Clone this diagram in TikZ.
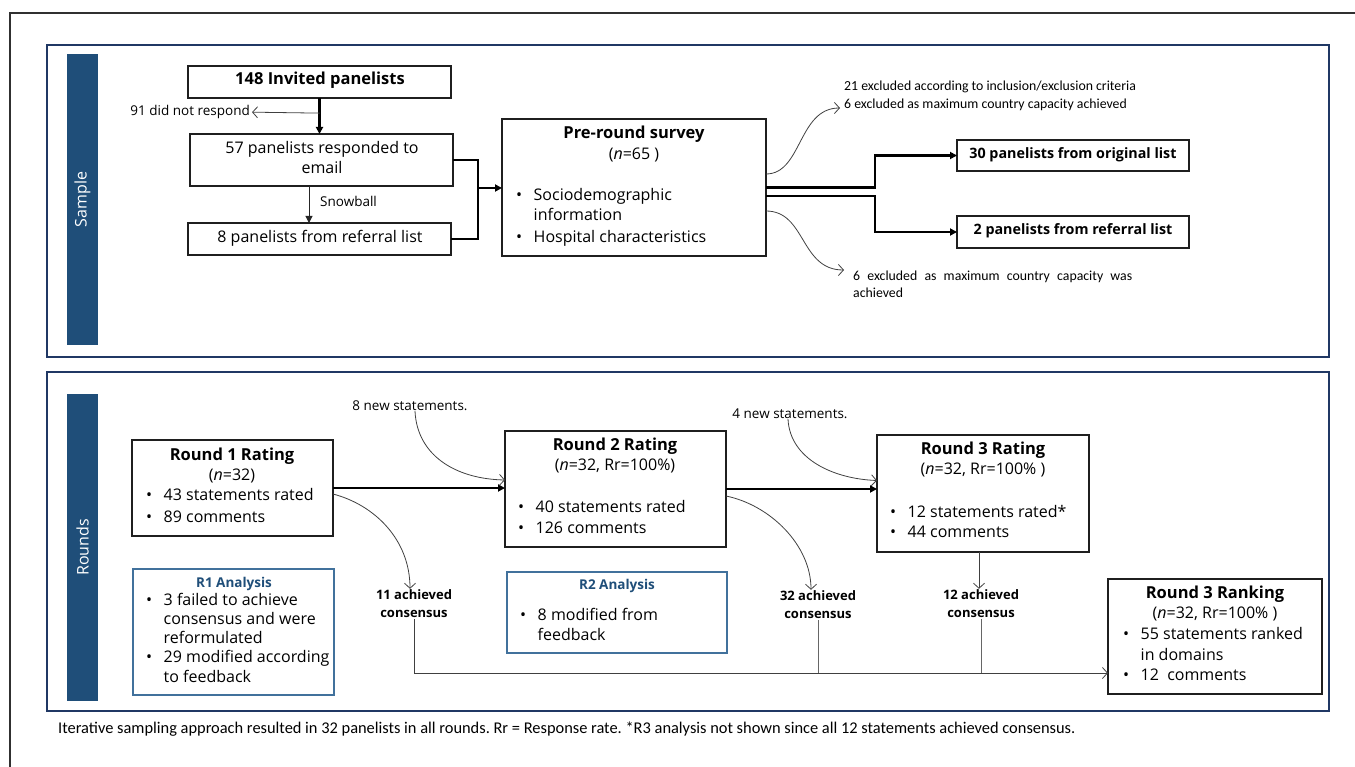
\documentclass[tikz,border=0pt]{standalone}
\usepackage{fontspec}
\setmainfont{Open Sans}
\newfontfamily\narrowfont{Carlito}
\usetikzlibrary{arrows.meta,calc}
\definecolor{navy}{HTML}{203864}
\definecolor{sidebar}{HTML}{1F4E79}
\definecolor{anaborder}{HTML}{41719C}
\definecolor{anatitle}{HTML}{1F4E79}
\definecolor{thingray}{HTML}{404040}
\definecolor{framecol}{HTML}{303030}
\frenchspacing
\tikzset{
  box/.style={draw=black!88, line width=1.4pt, inner sep=0pt, outer sep=0pt, fill=white},
  anabox/.style={draw=anaborder, line width=1.4pt, inner sep=0pt, outer sep=0pt, fill=white},
  panel/.style={draw=navy, line width=1.5pt, inner sep=0pt, outer sep=0pt},
  sidebarbox/.style={fill=sidebar, inner sep=0pt, outer sep=0pt},
  sidetext/.style={text=white, font=\fontsize{16}{19}\selectfont, rotate=90, inner sep=0pt},
  body/.style={font=\fontsize{16}{20}\selectfont, inner sep=0pt, anchor=mid west},
  bodyc/.style={font=\fontsize{16}{20}\selectfont, inner sep=0pt, anchor=mid},
  ttl/.style={font=\bfseries\fontsize{16.5}{20}\selectfont, inner sep=0pt, anchor=mid},
  ttlsmall/.style={font=\bfseries\fontsize{14.3}{18}\selectfont, inner sep=0pt, anchor=mid},
  anattl/.style={font=\bfseries\fontsize{13.5}{18}\selectfont, text=anatitle, inner sep=0pt, anchor=mid},
  note/.style={font=\fontsize{13.5}{17}\selectfont, inner sep=0pt},
  narrow/.style={font=\narrowfont\fontsize{13.8}{17.5}\selectfont, inner sep=0pt},
  cons/.style={font=\bfseries\fontsize{13}{18}\selectfont, inner sep=1pt, align=center},
  thickarr/.style={draw=black, line width=2.2pt, -{Triangle[length=7pt,width=7pt]}},
  thickline/.style={draw=black, line width=2.2pt},
  snowarr/.style={draw=black!85, line width=1pt, -{Triangle[length=7pt,width=7pt]}},
  thinarr/.style={draw=thingray, line width=0.8pt, -{Straight Barb[length=5pt,width=11pt]}},
  thinline/.style={draw=thingray!80, line width=0.9pt},
}
\newcommand\bul{\makebox[17.5pt][l]{•}}
\begin{document}
\begin{tikzpicture}[x=1pt,y=-1pt]
\useasboundingbox (0,0) rectangle (1355,767);
% outer frame
\draw[framecol, line width=1.8pt] (10,767) -- (10,13) -- (1355,13);

% ---------------- Sample panel ----------------
\node[panel, minimum width=1282pt, minimum height=312pt] (samplepanel) at (688,201) {};
\node[sidebarbox, minimum width=31pt, minimum height=291pt] (sampleside) at (82.5,199.5) {};
\node[sidetext] (sampletxt) at (sampleside.center) {Sample};

\node[box, minimum width=263pt, minimum height=32pt] (inv) at (319.5,82) {};
\node[ttl] (invt) at (320,82) {148 Invited panelists};

\node[box, minimum width=263pt, minimum height=52pt] (resp) at (321.5,160) {};
\node[bodyc] (respt1) at (322,151) {57 panelists responded to};
\node[bodyc] (respt2) at (322,171) {email};

\node[box, minimum width=263pt, minimum height=32pt] (ref8) at (319.5,239) {};
\node[bodyc] (ref8t) at (320,240) {8 panelists from referral list};

\node[note, anchor=mid east] (t91) at (250,113) {91 did not respond};
\node[note, anchor=mid west] (snow) at (320,204) {Snowball};

\node[box, minimum width=264pt, minimum height=137pt] (pre) at (634,187.5) {};
\node[ttl] (pret) at (634,136) {Pre-round survey};
\node[bodyc] (pren) at (634,157) {(\textit{n}=65 )};
\node[body] (pre1) at (516,198) {\bul Sociodemographic};
\node[body] (pre2) at (533.5,218) {information};
\node[body] (pre3) at (516,240) {\bul Hospital characteristics};

\node[box, minimum width=232pt, minimum height=31pt] (orig30) at (1073,155.5) {};
\node[ttlsmall] (orig30t) at (1073,156) {30 panelists from original list};
\node[box, minimum width=232pt, minimum height=32pt] (ref2) at (1073,232) {};
\node[ttlsmall] (ref2t) at (1073,232) {2 panelists from referral list};

\node[narrow, anchor=mid west] (ex1a) at (844,88) {21 excluded according to inclusion/exclusion criteria};
\node[narrow, anchor=mid west] (ex1b) at (844,106) {6 excluded as maximum country capacity achieved};
\node[narrow, anchor=north west, text width=279pt, align=justify] (ex2) at (853,270.5) {6 excluded as maximum country capacity was achieved};

% sample connectors
\draw[thickarr] (inv.south) -- (inv.south |- resp.north);
\coordinate (m91) at ($(inv.south)!0.42!(inv.south |- resp.north)$);
\draw[thinarr] (m91) -- ([xshift=2pt]t91.east);
\draw[snowarr] ([xshift=-12.5pt]resp.south) -- ([xshift=-12.5pt]resp.south |- ref8.north);
\coordinate (mj) at (478,188);
\draw[thickline] (resp.east) -| (mj);
\draw[thickline] (ref8.east) -| (mj);
\draw[thickarr] (mj) -- (mj -| pre.west);
\draw[thickarr] (pre.east) -- ++(109,0) |- (orig30.west);
\draw[thickarr] ([yshift=-8.5pt]pre.east) -- ++(109,0) |- (ref2.west);
\coordinate (ex1tip) at (840,108);
\coordinate (ex2tip) at (844,270);
\draw[thinarr] ([yshift=13.5pt]pre.east) .. controls (802,174) and (798,108) .. (ex1tip);
\draw[thinarr] ([yshift=-23.5pt]pre.east) .. controls (806,211) and (800,270) .. (ex2tip);

% ---------------- Rounds panel ----------------
\node[panel, minimum width=1282pt, minimum height=339pt] (roundspanel) at (688,541.5) {};
\node[sidebarbox, minimum width=31pt, minimum height=307pt] (roundsside) at (82.5,547.5) {};
\node[sidetext] (roundstxt) at (roundsside.center) {Rounds};

% Round 1
\node[box, minimum width=201pt, minimum height=96pt] (r1) at (232.5,488) {};
\node[ttl] (r1t) at (232,458) {Round 1 Rating};
\node[bodyc] (r1n) at (232,478) {(\textit{n}=32)};
\node[body] (r1b1) at (146,498) {\bul 43 statements rated};
\node[body] (r1b2) at (146,520) {\bul 89 comments};

\node[anabox, minimum width=201pt, minimum height=126pt] (r1a) at (233.5,632) {};
\node[anattl] (r1at) at (234,585) {R1 Analysis};
\node[body] (r1a1) at (146,603) {\bul 3 failed to achieve};
\node[body] (r1a2) at (163.5,622) {consensus and were};
\node[body] (r1a3) at (163.5,641) {reformulated};
\node[body] (r1a4) at (146,660) {\bul 29 modified according};
\node[body] (r1a5) at (163.5,680) {to feedback};

% Round 2
\node[box, minimum width=221pt, minimum height=116pt] (r2) at (615.5,489) {};
\node[ttl] (r2t) at (615,448) {Round 2 Rating};
\node[bodyc] (r2n) at (615,468) {(\textit{n}=32, Rr=100\%)};
\node[body] (r2b1) at (518,510) {\bul 40 statements rated};
\node[body] (r2b2) at (518,531) {\bul 126 comments};

\node[anabox, minimum width=220pt, minimum height=81pt] (r2a) at (617,612.5) {};
\node[anattl] (r2at) at (617,587) {R2 Analysis};
\node[body] (r2a1) at (520,618) {\bul 8 modified from};
\node[body] (r2a2) at (537.5,638) {feedback};

% Round 3
\node[box, minimum width=212pt, minimum height=117pt] (r3) at (983,493.5) {};
\node[ttl] (r3t) at (983,452) {Round 3 Rating};
\node[bodyc] (r3n) at (983,472) {(\textit{n}=32, Rr=100\% )};
\node[body] (r3b1) at (890,515) {\bul 12 statements rated*};
\node[body] (r3b2) at (890,535) {\bul 44 comments};

% Round 3 ranking
\node[box, minimum width=214pt, minimum height=115pt] (r3r) at (1215,636.5) {};
\node[ttl] (r3rt) at (1215,596) {Round 3 Ranking};
\node[bodyc] (r3rn) at (1215,616) {(\textit{n}=32, Rr=100\% )};
\node[body] (r3r1) at (1123,637) {\bul 55 statements ranked};
\node[body] (r3r2) at (1140.5,658) {in domains};
\node[body] (r3r3) at (1123,678) {\bul 12\ \ comments};

% labels
\node[note, anchor=mid] (new8) at (410,408) {8 new statements.};
\node[note, anchor=mid] (new4) at (790,416) {4 new statements.};
\node[cons] (cons11) at (414,604) {11 achieved\\consensus};
\node[cons] (cons32) at (818,605) {32 achieved\\consensus};
\node[cons] (cons12) at (981,604) {12 achieved\\consensus};

% rounds connectors
\draw[thickarr] (r1.east) -- (r1.east -| r2.west);
\draw[thickarr] (r2.east) -- (r2.east -| r3.west);
\draw[thinarr] ([xshift=5pt]new8.south) .. controls (417,455) and (455,479) .. ([yshift=9pt]r2.west);
\draw[thinarr] ([xshift=-2pt]new4.south) .. controls (790,460) and (835,479) .. ([yshift=13pt]r3.west);
\draw[thinarr] ([yshift=-6pt]r1.east) .. controls (375,505) and (410,540) .. ([xshift=-4pt]cons11.north);
\draw[thinarr] ([yshift=-7pt]r2.east) .. controls (770,505) and (811,545) .. ([xshift=-7pt]cons32.north);
\draw[thinarr] ([xshift=-4pt]r3.south) -- ([xshift=-4pt]r3.south |- cons12.north);
\coordinate (bus) at ([yshift=-36.5pt]r3r.west);
\draw[thinarr] (cons11.south) |- (bus);
\draw[thinline] (cons32.south) -- (cons32.south |- bus);
\draw[thinline] (cons12.south) -- (cons12.south |- bus);

% caption
\node[inner sep=0pt, font=\narrowfont\fontsize{16.4}{19}\selectfont, anchor=mid west] (caption) at (58,731) {Iterative sampling approach resulted in 32 panelists in all rounds. Rr = Response rate. *R3 analysis not shown since all 12 statements achieved consensus.};
\end{tikzpicture}
\end{document}
